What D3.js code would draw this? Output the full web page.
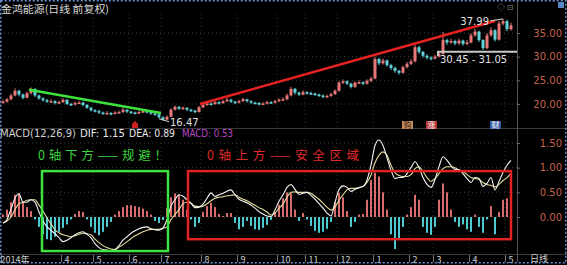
<!DOCTYPE html>
<html>
<head>
<meta charset="utf-8">
<script src="https://d3js.org/d3.v7.min.js"></script>
<style>
  body { margin: 0; background: #000; }
  svg { display: block; font-family: "Noto Sans CJK SC", "DejaVu Sans", sans-serif; }
</style>
</head>
<body>
<div id="chart"></div>
<script>
// daily closes (one value every ~4px)
var closes = [20.5, 21.0, 21.8, 22.8, 22.0, 21.3, 22.3, 23.2, 21.8, 21.2,
    20.8, 20.5, 20.6, 20.2, 20.4, 20.9, 20.0, 19.9, 20.2, 20.3,
    19.8, 19.2, 18.7, 18.5, 18.2, 18.0, 18.1, 17.9, 18.2, 18.3,
    18.8, 18.4, 18.2, 18.0, 18.3, 18.5, 18.3, 18.0, 17.8, 17.2,
    16.7, 17.3, 18.8, 19.4, 19.0, 19.2, 18.8, 18.6, 18.3, 19.3,
    19.8, 20.1, 20.0, 20.4, 20.2, 20.6, 20.9, 20.5, 20.3, 20.6,
    21.0, 20.6, 20.3, 20.2, 20.0, 20.1, 20.4, 20.3, 20.6, 20.9,
    21.0, 21.8, 23.2, 22.4, 22.0, 22.5, 22.3, 22.2, 22.0, 21.8,
    21.5, 21.7, 22.1, 22.8, 24.5, 24.8, 24.3, 23.6, 24.5, 24.6,
    24.3, 24.9, 25.4, 29.5, 28.6, 29.2, 28.2, 27.6, 27.0, 26.6,
    27.8, 28.5, 29.0, 32.0, 31.0, 30.2, 29.8, 29.6, 30.0, 30.6,
    33.5, 33.0, 33.3, 32.8, 33.4, 32.7, 33.0, 34.5, 35.3, 33.5,
    31.8, 34.5, 35.6, 33.6, 37.0, 37.5, 35.8, 36.6];
var highs = [20.9, 21.3, 22.2, 23.3, 23.0, 22.2, 22.6, 23.5, 23.3, 22.0,
    21.4, 21.1, 21.0, 20.8, 20.7, 21.2, 21.0, 20.3, 20.5, 20.7,
    20.5, 20.0, 19.4, 18.9, 18.8, 18.4, 18.5, 18.3, 18.5, 18.6,
    19.2, 18.9, 18.6, 18.4, 18.6, 18.8, 18.7, 18.4, 18.2, 18.0,
    17.4, 17.6, 19.1, 19.7, 19.6, 19.5, 19.3, 19.0, 18.8, 19.6,
    20.1, 20.4, 20.4, 20.7, 20.6, 20.9, 21.3, 21.1, 20.7, 20.9,
    21.3, 21.1, 20.8, 20.5, 20.4, 20.4, 20.7, 20.6, 20.9, 21.2,
    21.4, 22.2, 23.6, 23.4, 22.6, 22.9, 22.7, 22.6, 22.4, 22.2,
    22.0, 22.0, 22.4, 23.1, 24.9, 25.2, 25.0, 24.5, 24.8, 25.0,
    24.8, 25.2, 25.8, 30.0, 29.8, 29.6, 29.4, 28.5, 27.9, 27.2,
    28.1, 28.9, 29.5, 32.5, 32.3, 31.2, 30.5, 30.1, 30.4, 31.0,
    35.2, 33.8, 33.8, 33.6, 33.8, 33.6, 33.5, 35.0, 35.9, 35.5,
    33.7, 35.0, 36.2, 35.8, 37.5, 37.99, 37.8, 37.2];
var lows = [20.1, 20.3, 20.8, 21.6, 21.6, 21.0, 21.2, 22.0, 21.5, 20.9,
    20.5, 20.2, 20.2, 19.9, 20.0, 20.2, 19.8, 19.6, 19.7, 20.0,
    19.5, 19.0, 18.4, 18.2, 17.9, 17.7, 17.8, 17.6, 17.8, 18.0,
    18.1, 18.1, 17.9, 17.8, 17.9, 18.1, 18.0, 17.7, 17.5, 17.0,
    16.47, 16.6, 17.2, 18.6, 18.7, 18.8, 18.5, 18.3, 18.0, 18.2,
    19.1, 19.6, 19.7, 19.8, 19.9, 20.0, 20.4, 20.2, 20.0, 20.1,
    20.4, 20.3, 20.0, 19.9, 19.7, 19.8, 19.9, 20.0, 20.1, 20.4,
    20.7, 20.8, 21.6, 22.0, 21.7, 21.8, 22.0, 21.9, 21.7, 21.5,
    21.2, 21.3, 21.5, 21.9, 22.6, 24.2, 24.0, 23.3, 23.4, 24.2,
    24.0, 24.1, 24.6, 25.2, 28.2, 28.3, 27.9, 27.2, 26.6, 26.2,
    26.4, 27.5, 28.2, 28.8, 30.6, 29.8, 29.4, 29.2, 29.4, 29.8,
    30.4, 32.5, 32.7, 32.4, 32.5, 32.3, 32.4, 32.8, 34.2, 33.1,
    31.4, 31.6, 34.2, 33.2, 33.4, 36.6, 35.4, 35.5];

// MACD(12,26,9)
var dif = [-0.12, -0.05, 0.16, 0.38, 0.47, 0.30, 0.30, 0.35, 0.30, 0.10,
    -0.08, -0.20, -0.27, -0.34, -0.42, -0.50, -0.47, -0.42, -0.36, -0.32,
    -0.30, -0.35, -0.42, -0.54, -0.62, -0.66, -0.67, -0.69, -0.66, -0.58,
    -0.47, -0.40, -0.33, -0.28, -0.24, -0.21, -0.20, -0.24, -0.26, -0.27,
    -0.22, -0.05, 0.22, 0.35, 0.45, 0.42, 0.35, 0.28, 0.19, 0.20,
    0.26, 0.38, 0.49, 0.42, 0.45, 0.48, 0.52, 0.55, 0.45, 0.36,
    0.32, 0.29, 0.24, 0.18, 0.11, 0.06, 0.02, 0.01, 0.14, 0.32,
    0.45, 0.60, 0.66, 0.56, 0.46, 0.48, 0.50, 0.44, 0.36, 0.27,
    0.18, 0.08, 0.02, 0.30, 0.55, 0.63, 0.60, 0.52, 0.56, 0.60,
    0.62, 0.75, 1.05, 1.45, 1.56, 1.45, 1.20, 0.95, 0.78, 0.80,
    0.80, 0.88, 1.00, 1.12, 1.00, 0.80, 0.66, 0.60, 0.76, 1.02,
    1.22, 1.15, 1.04, 0.96, 0.96, 0.88, 0.78, 0.70, 0.80, 0.78,
    0.62, 0.68, 0.80, 0.55, 0.72, 0.90, 1.05, 1.15];
var dea = [-0.12, -0.08, 0.00, 0.15, 0.27, 0.30, 0.34, 0.35, 0.35, 0.24,
    0.12, -0.02, -0.14, -0.26, -0.32, -0.36, -0.38, -0.40, -0.38, -0.35,
    -0.33, -0.34, -0.36, -0.45, -0.52, -0.58, -0.62, -0.65, -0.66, -0.61,
    -0.56, -0.50, -0.44, -0.38, -0.34, -0.30, -0.27, -0.25, -0.25, -0.25,
    -0.23, -0.20, -0.05, 0.05, 0.15, 0.27, 0.30, 0.28, 0.22, 0.21,
    0.22, 0.27, 0.33, 0.38, 0.40, 0.41, 0.43, 0.44, 0.45, 0.40,
    0.36, 0.33, 0.28, 0.24, 0.19, 0.15, 0.10, 0.04, 0.08, 0.18,
    0.26, 0.40, 0.50, 0.51, 0.50, 0.50, 0.50, 0.48, 0.42, 0.36,
    0.28, 0.20, 0.14, 0.20, 0.34, 0.45, 0.55, 0.58, 0.58, 0.59,
    0.62, 0.70, 0.85, 1.10, 1.25, 1.32, 1.25, 1.05, 0.90, 0.84,
    0.82, 0.82, 0.86, 0.98, 1.02, 0.92, 0.80, 0.72, 0.78, 0.88,
    0.98, 1.02, 1.02, 1.00, 0.95, 0.92, 0.86, 0.80, 0.78, 0.76,
    0.70, 0.66, 0.64, 0.61, 0.66, 0.74, 0.80, 0.89];
var hist = [0.05, 0.15, 0.30, 0.45, 0.48, 0.30, 0.20, 0.12, -0.05, -0.20,
    -0.35, -0.45, -0.47, -0.40, -0.30, -0.22, -0.15, -0.05, 0.06, 0.12,
    0.10, -0.05, -0.20, -0.32, -0.37, -0.30, -0.20, -0.10, 0.05, 0.12,
    0.20, 0.24, 0.24, 0.22, 0.20, 0.17, 0.12, 0.05, -0.08, -0.12,
    -0.06, 0.18, 0.40, 0.48, 0.45, 0.35, 0.15, -0.05, -0.20, -0.12,
    0.10, 0.22, 0.29, 0.20, 0.06, 0.02, 0.08, 0.08, -0.12, -0.25,
    -0.20, -0.08, -0.18, -0.25, -0.26, -0.22, -0.16, -0.06, 0.10, 0.25,
    0.38, 0.50, 0.48, 0.15, -0.08, 0.08, -0.05, -0.18, -0.28, -0.32,
    -0.30, -0.24, -0.10, 0.30, 0.49, 0.40, 0.12, -0.20, -0.10, 0.05,
    0.06, 0.35, 0.75, 0.90, 0.82, 0.50, 0.15, -0.35, -0.65, -0.45,
    -0.20, 0.05, 0.20, 0.45, 0.35, -0.20, -0.32, -0.36, -0.20, 0.35,
    0.68, 0.50, 0.15, -0.10, -0.20, -0.15, -0.25, -0.30, 0.05, -0.20,
    -0.32, -0.05, 0.22, -0.35, 0.10, 0.35, 0.38, 0.53];

// month boundaries (candle index) and their labels
var monthIdx = [0, 15, 23, 32, 40, 50, 59, 69, 76, 84, 93, 102, 108, 117, 126];
var monthLabels = ["2014年", "4", "5", "6", "7", "8", "9", "10", "11", "12", "1", "2", "3", "4", "5"];

var priceTicks = [35, 30, 25, 20];
var macdTicks = [1.5, 1.0, 0.5, 0.0];

// trend lines drawn on the price chart: [index, price]
var greenTrend = [[6.5, 23.0], [39.5, 18.1]];
var redTrend = [[49.25, 20.0], [123, 37.54]];

// boxes on the MACD chart: [index from, index to, value top, value bottom]
var greenBox = [9.75, 41.25, 0.93, -0.69];
var redBox = [46.25, 127, 0.93, -0.45];

// event badges under the candles
var badgeIdx = [101, 107, 123];
var badgeText = ["购", "涨", "财"];

var W = 567, H = 265, plotRight = 517;

var svg = d3.select("#chart").append("svg")
    .attr("width", W).attr("height", H)
    .style("background", "#000");

var x = d3.scaleLinear().domain([0, closes.length - 1]).range([3, 511]);
var yPrice = d3.scaleLinear().domain([20, 35]).range([104, 33]);
var yMacd = d3.scaleLinear().domain([0, 1.5]).range([217, 143]);

/* ---------- grid ---------- */
var grid = svg.append("g");
grid.selectAll(".hp").data(priceTicks).enter().append("line")
    .attr("x1", 0).attr("x2", plotRight)
    .attr("y1", d => yPrice(d)).attr("y2", d => yPrice(d))
    .attr("stroke", "#3c3c3c").attr("stroke-dasharray", "1,3");
grid.selectAll(".hm").data(macdTicks).enter().append("line")
    .attr("x1", 0).attr("x2", plotRight)
    .attr("y1", d => yMacd(d)).attr("y2", d => yMacd(d))
    .attr("stroke", "#3c3c3c").attr("stroke-dasharray", "1,3");
grid.selectAll(".vp").data(monthIdx.slice(1)).enter().append("line")
    .attr("x1", d => x(d) - 2).attr("x2", d => x(d) - 2)
    .attr("y1", 14).attr("y2", 127)
    .attr("stroke", "#333").attr("stroke-dasharray", "1,3");
grid.selectAll(".vm").data(monthIdx.slice(1)).enter().append("line")
    .attr("x1", d => x(d) - 2).attr("x2", d => x(d) - 2)
    .attr("y1", 139).attr("y2", 254)
    .attr("stroke", "#333").attr("stroke-dasharray", "1,3");

// panel separators
svg.append("line").attr("x1", 0).attr("x2", W).attr("y1", 128.5).attr("y2", 128.5).attr("stroke", "#3a3a3a");
svg.append("line").attr("x1", 0).attr("x2", W).attr("y1", 254.5).attr("y2", 254.5).attr("stroke", "#3a3a3a");
svg.append("line").attr("x1", plotRight + 0.5).attr("x2", plotRight + 0.5).attr("y1", 0).attr("y2", 262).attr("stroke", "#555");

/* ---------- candles ---------- */
var candles = closes.map((c, i) => ({ i: i, open: i ? closes[i - 1] : c, close: c, high: highs[i], low: lows[i] }));
var upCol = "#e87878", dnCol = "#62d2da";
var cg = svg.selectAll(".candle").data(candles).enter().append("g").attr("class", "candle");
cg.append("line")
    .attr("x1", d => x(d.i)).attr("x2", d => x(d.i))
    .attr("y1", d => yPrice(d.high)).attr("y2", d => yPrice(d.low))
    .attr("stroke", d => d.close >= d.open ? upCol : dnCol).attr("stroke-width", 1);
cg.append("rect")
    .attr("x", d => x(d.i) - 1.5)
    .attr("width", 3)
    .attr("y", d => yPrice(Math.max(d.open, d.close)))
    .attr("height", d => Math.max(1.5, Math.abs(yPrice(d.open) - yPrice(d.close))))
    .attr("fill", d => d.close >= d.open ? upCol : dnCol);

// trend lines
var trend = d3.line().x(d => x(d[0])).y(d => yPrice(d[1]));
svg.append("path").attr("d", trend(greenTrend)).attr("stroke", "#3ee23e").attr("stroke-width", 2.5).attr("fill", "none");
svg.append("path").attr("d", trend(redTrend)).attr("stroke", "#e82222").attr("stroke-width", 2.5).attr("fill", "none");

// high / low marks
var lowI = 40, lowV = 16.47, highI = 125, highV = 37.99;
svg.append("line")
    .attr("x1", x(lowI) - 4).attr("y1", yPrice(lowV) - 2)
    .attr("x2", x(lowI) + 6).attr("y2", yPrice(lowV) + 1)
    .attr("stroke", "#ddd");
svg.append("text").attr("x", x(lowI) + 7).attr("y", 126)
    .attr("fill", "#e0e0e0").attr("font-size", 10).attr("font-family", "DejaVu Sans")
    .text(d3.format(".2f")(lowV));
svg.append("line")
    .attr("x1", 490).attr("y1", 21)
    .attr("x2", x(highI)).attr("y2", yPrice(highV))
    .attr("stroke", "#ddd");
svg.append("text").attr("x", 489).attr("y", 25).attr("text-anchor", "end")
    .attr("fill", "#e0e0e0").attr("font-size", 10).attr("font-family", "DejaVu Sans")
    .text(d3.format(".2f")(highV));

// 30.45 - 31.05 range marker
var rangeLo = 30.45, rangeHi = 31.05, rangeI = 108.75;
svg.append("path")
    .attr("d", "M" + x(rangeI) + "," + (yPrice(rangeLo) + 1.5) + "V" + yPrice(rangeHi) + "H" + plotRight)
    .attr("stroke", "#c8c8c8").attr("stroke-width", 2).attr("fill", "none");
svg.append("text").attr("x", x(rangeI) + 2).attr("y", 63)
    .attr("fill", "#e0e0e0").attr("font-size", 10).attr("font-family", "DejaVu Sans")
    .text(rangeLo.toFixed(2) + " - " + rangeHi.toFixed(2));

// small event marker under candles
svg.append("path")
    .attr("d", "M" + (x(33) - 3) + ",128 V124 L" + x(33) + ",121 L" + (x(33) + 3) + ",124 V128 Z")
    .attr("fill", "#d02020");

// badges
var badgeFill = ["#c89060", "#b83838", "#3a5ea8"];
var badges = svg.selectAll(".badge").data(badgeIdx).enter().append("g")
    .attr("transform", d => "translate(" + (x(d) - 5) + ",121)");
badges.append("rect").attr("width", 11).attr("height", 8).attr("fill", (d, k) => badgeFill[k]);
badges.append("text").attr("x", 5.5).attr("y", 7).attr("text-anchor", "middle")
    .attr("font-size", 8).attr("fill", (d, k) => k === 0 ? "#3a2010" : "#fff")
    .text((d, k) => badgeText[k]);

/* ---------- MACD ---------- */
svg.selectAll(".bar").data(hist).enter().append("rect")
    .attr("class", "bar")
    .attr("x", (d, i) => x(i) - 1)
    .attr("width", 2)
    .attr("y", d => yMacd(Math.max(0, d)))
    .attr("height", d => Math.abs(yMacd(d) - yMacd(0)))
    .attr("fill", d => d >= 0 ? "#d86c6c" : "#4ec8d2");

var macdLine = d3.line().x((d, i) => x(i)).y(d => yMacd(d)).curve(d3.curveMonotoneX);
svg.append("path").attr("d", macdLine(dea)).attr("stroke", "#e4dc9c").attr("stroke-width", 1.1).attr("fill", "none");
svg.append("path").attr("d", macdLine(dif)).attr("stroke", "#f4f4f4").attr("stroke-width", 1.1).attr("fill", "none");

// boxes
function box(b, color) {
    svg.append("rect")
        .attr("x", x(b[0])).attr("y", yMacd(b[2]))
        .attr("width", x(b[1]) - x(b[0]))
        .attr("height", yMacd(b[3]) - yMacd(b[2]))
        .attr("fill", "none").attr("stroke", color).attr("stroke-width", 2.5);
}
box(greenBox, "#3ee23e");
box(redBox, "#e02222");

svg.append("text").attr("x", 38).attr("y", 160)
    .attr("textLength", 129).attr("lengthAdjust", "spacing")
    .attr("font-size", 12.5).attr("fill", "#3ed43e")
    .text("0轴下方——规避！");
svg.append("text").attr("x", 207).attr("y", 160)
    .attr("textLength", 152).attr("lengthAdjust", "spacing")
    .attr("font-size", 12.5).attr("fill", "#e02a2a")
    .text("0轴上方——安全区域");

/* ---------- axes ---------- */
var fmt = d3.format(".2f");
var axP = svg.append("g").attr("transform", "translate(" + plotRight + ",0)")
    .call(d3.axisRight(yPrice).tickValues(priceTicks).tickFormat(fmt).tickSize(3));
var axM = svg.append("g").attr("transform", "translate(" + plotRight + ",0)")
    .call(d3.axisRight(yMacd).tickValues(macdTicks).tickFormat(fmt).tickSize(3));
[axP, axM].forEach(function(ax) {
    ax.select(".domain").remove();
    ax.attr("font-family", "DejaVu Sans").attr("font-size", 10);
    ax.selectAll("line").attr("stroke", "#666");
    ax.selectAll("text").attr("x", 45).attr("text-anchor", "end").attr("fill", "#c4604e");
});

var axX = svg.append("g").attr("transform", "translate(-2,255)")
    .call(d3.axisBottom(x).tickValues(monthIdx).tickFormat((d, k) => monthLabels[k]).tickSize(7).tickSizeOuter(0));
axX.select(".domain").remove();
axX.attr("font-family", "Noto Sans CJK SC").attr("font-size", 9);
axX.selectAll("line").attr("stroke", "#777");
axX.selectAll("text")
    .attr("x", (d, k) => k === 0 ? -1 : 3).attr("y", 0).attr("dy", "0.85em")
    .attr("text-anchor", "start").attr("fill", "#d0d0d0");
svg.append("text").attr("x", 530).attr("y", 262).attr("font-size", 9).attr("fill", "#d0d0d0").text("日线");

/* ---------- titles ---------- */
svg.append("text").attr("x", 1).attr("y", 13)
    .attr("textLength", 108).attr("lengthAdjust", "spacingAndGlyphs")
    .attr("font-size", 10.5).attr("fill", "#d8d8d8")
    .text("金鸿能源(日线 前复权)");

var legend = [
    { t: "MACD(12,26,9)", x: 0, w: 76, c: "#d4d4d4" },
    { t: "DIF: 1.15", x: 80, w: 45, c: "#e8e8e8" },
    { t: "DEA: 0.89", x: 129, w: 46, c: "#e8e8e8" },
    { t: "MACD: 0.53", x: 182, w: 51, c: "#b848c8" }
];
svg.selectAll(".lg").data(legend).enter().append("text")
    .attr("x", d => d.x).attr("y", 137)
    .attr("textLength", d => d.w).attr("lengthAdjust", "spacingAndGlyphs")
    .attr("font-size", 10).attr("font-family", "DejaVu Sans")
    .attr("fill", d => d.c).text(d => d.t);

// small toolbar icons top right
svg.append("text").attr("x", 497).attr("y", 10).attr("font-size", 8).attr("fill", "#888").text("◇ ⊡");
svg.append("rect").attr("x", 558).attr("y", 2).attr("width", 6).attr("height", 6).attr("fill", "#5a86c8");

// dotted capture frame
svg.append("rect").attr("x", 0.75).attr("y", 0.75).attr("width", 565).attr("height", 262)
    .attr("fill", "none").attr("stroke", "#6a8ed0").attr("stroke-width", 1.5).attr("stroke-dasharray", "2,2");
</script>
</body>
</html>
